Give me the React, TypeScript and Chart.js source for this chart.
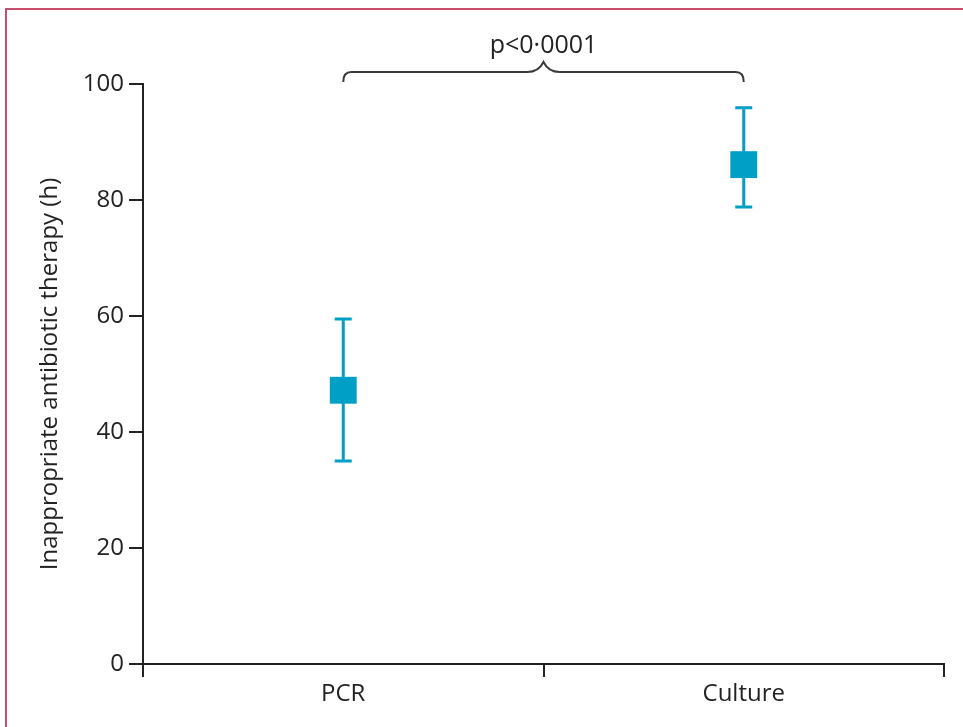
import React, { useEffect, useRef } from "react";
import { Chart, registerables } from "chart.js";

Chart.register(...registerables);

const categories = ["PCR", "Culture"];
const means = [47.2, 86.1];
const lower = [35.0, 78.8];
const upper = [59.5, 95.9];
const yTicks = [0, 20, 40, 60, 80, 100];
const yTitle = "Inappropriate antibiotic therapy (h)";
const pText = "p<0\u00B70001";

const BLUE = "#00a0c6";
const INK = "#222222";
const FONT = "'Open Sans', sans-serif";

const errorBarPlugin = {
  id: "errorBars",
  beforeDatasetsDraw(chart: any) {
    const { ctx, scales } = chart;
    const x = scales.x;
    const y = scales.y;
    ctx.save();
    ctx.strokeStyle = BLUE;
    ctx.lineWidth = 3;
    categories.forEach((_, i) => {
      const px = x.getPixelForValue(i);
      const yl = y.getPixelForValue(lower[i]);
      const yu = y.getPixelForValue(upper[i]);
      ctx.beginPath();
      ctx.moveTo(px, yl);
      ctx.lineTo(px, yu);
      ctx.moveTo(px - 8.5, yl);
      ctx.lineTo(px + 8.5, yl);
      ctx.moveTo(px - 8.5, yu);
      ctx.lineTo(px + 8.5, yu);
      ctx.stroke();
    });
    ctx.restore();
  },
};

const bracketPlugin = {
  id: "bracket",
  afterDraw(chart: any) {
    const { ctx, scales, chartArea } = chart;
    const x = scales.x;
    const x0 = x.getPixelForValue(0);
    const x1 = x.getPixelForValue(1);
    const xm = (x0 + x1) / 2;
    const yEnd = chartArea.top - 2;
    const yH = yEnd - 10;
    const yPeak = yH - 10;
    const r = 8;
    ctx.save();
    ctx.strokeStyle = "#3a3a3a";
    ctx.lineWidth = 2;
    ctx.beginPath();
    ctx.moveTo(x0, yEnd);
    ctx.quadraticCurveTo(x0, yH, x0 + r, yH);
    ctx.lineTo(xm - 16, yH);
    ctx.quadraticCurveTo(xm - 5, yH, xm, yPeak);
    ctx.quadraticCurveTo(xm + 5, yH, xm + 16, yH);
    ctx.lineTo(x1 - r, yH);
    ctx.quadraticCurveTo(x1, yH, x1, yEnd);
    ctx.stroke();
    ctx.fillStyle = INK;
    ctx.font = `25px ${FONT}`;
    ctx.textAlign = "center";
    ctx.textBaseline = "alphabetic";
    ctx.fillText(pText, xm, yPeak - 9);
    ctx.restore();
  },
};

export default function App() {
  const ref = useRef<HTMLCanvasElement | null>(null);

  useEffect(() => {
    if (!ref.current) return;
    const chart = new Chart(ref.current, {
      type: "line",
      data: {
        labels: categories,
        datasets: [
          {
            data: means,
            showLine: false,
            pointStyle: "rect",
            pointRadius: 19,
            pointHoverRadius: 19,
            pointBackgroundColor: BLUE,
            pointBorderWidth: 0,
            borderColor: BLUE,
          },
        ],
      },
      options: {
        responsive: false,
        animation: false,
        devicePixelRatio: 1,
        layout: { padding: { top: 84, right: 19, left: 36, bottom: 0 } },
        plugins: {
          legend: { display: false },
          tooltip: { enabled: false },
        },
        scales: {
          x: {
            type: "category",
            offset: true,
            afterFit(scale: any) {
              scale.height = 63;
            },
            grid: {
              offset: true,
              drawOnChartArea: false,
              drawTicks: true,
              tickLength: 13,
              color: INK,
              lineWidth: 2,
            },
            border: { display: true, color: INK, width: 2 },
            ticks: {
              color: INK,
              font: { family: FONT, size: 24 },
              padding: 3,
            },
          },
          y: {
            min: 0,
            max: 100,
            afterBuildTicks(scale: any) {
              scale.ticks = yTicks.map((v) => ({ value: v }));
            },
            afterFit(scale: any) {
              scale.width = 107;
            },
            grid: {
              drawOnChartArea: false,
              drawTicks: true,
              tickLength: 14,
              color: INK,
              lineWidth: 2,
            },
            border: { display: true, color: INK, width: 2 },
            ticks: {
              color: INK,
              font: { family: FONT, size: 24 },
              padding: 5,
            },
            title: {
              display: true,
              text: yTitle,
              color: INK,
              font: { family: FONT, size: 24 },
              padding: { top: 0, bottom: 0 },
            },
          },
        },
      },
      plugins: [errorBarPlugin, bracketPlugin],
    });
    return () => chart.destroy();
  }, []);

  return (
    <div style={{ position: "absolute", left: 0, top: 0, width: 963, height: 727, overflow: "hidden", background: "#fff" }}>
      <div
        style={{
          position: "absolute",
          left: 5,
          top: 8,
          width: 958,
          height: 719,
          boxSizing: "border-box",
          borderTop: "2px solid #c8506e",
          borderLeft: "2px solid #c8506e",
        }}
      />
      <canvas ref={ref} width={963} height={727} style={{ position: "absolute", left: 0, top: 0 }} />
    </div>
  );
}
